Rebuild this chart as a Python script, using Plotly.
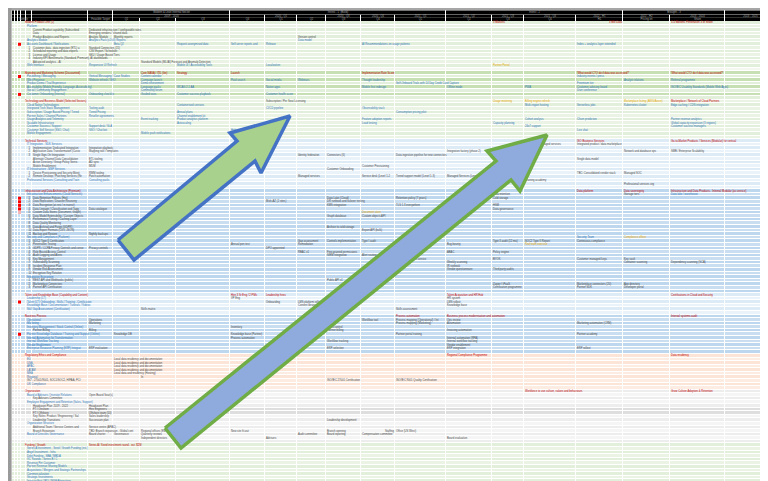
import plotly.graph_objects as go

# ---------------- grid data ----------------
col_edges = [4, 7, 10, 13, 18, 24, 80, 105, 132, 168, 222, 257, 289, 318, 353,
             387, 438, 484, 516, 568, 615, 662, 717, 768]
grid_top = 13.0
row_h = 3.58
n_rows = 130

band_names = ["g1", "w", "g2", "g1", "b1", "b2", "b1", "b2", "o", "gr", "g1"]
band_counts = [13, 1, 7, 12, 14, 29, 6, 11, 10, 15, 12]
band_shades = {
    "g1": ["#e2efda", "#ebf3e5"],
    "w": ["#f3f7f0"],
    "g2": ["#c6e0b4", "#e2efda"],
    "b1": ["#ddebf7", "#ebf3fa"],
    "b2": ["#bdd7ee", "#c9def1"],
    "o": ["#fce4d6", "#fdece2"],
    "gr": ["#ededed", "#f5f5f5"],
}
dark_gray_rows = [108, 109]

# header rows (three black bands)
hdr_bands = [(2.5, 6.0), (6.8, 9.6), (10.0, 13.0)]
hdr1_edges = [4, 7, 10, 13, 18, 24, 80, 105, 222, 438, 615, 717, 768]
hdr2_edges = [4, 7, 10, 13, 18, 24, 80, 105, 222, 257, 289, 318, 353, 387, 438,
              484, 516, 568, 615, 662, 717, 768]
hdr3_edges = col_edges
hdr1_labels = {7: "Modern & Lean Internal Sector", 8: "Invest - 1  (Build)",
               9: "Invest - 2", 10: "Brought - 3"}
hdr2_labels = {7: "2019 - 2020", 9: "2020 - Q1", 11: "2020 - Q3", 12: "2020 - Q4",
               13: "2021 - Q1", 14: "2021 - Q2", 15: "2021 - Q3", 16: "2021 - Q4",
               17: "2022 - H1", 18: "2022 - H2", 19: "2023 - 2024", 20: "2024 - 2025"}
hdr3_labels = {3: "Sample", 6: "Feasible Target", 7: "Q1", 8: "Q2", 9: "Q3", 10: "Q4",
               11: "Q1", 12: "Q2", 13: "Q3", 14: "Q4", 15: "Q1", 16: "Q2",
               17: "Q3", 18: "Q4", 19: "H1", 20: "Pricing on", 21: "Share"}

# ---------------- row labels (row, level, text, kind) ----------------
labels_product = [
    (0, 0, "Modern Product Line (1)", "r"),
    (1, 1, "Platform", "b"),
    (2, 2, "Current Product capability (Subscribed)", "k"),
    (3, 2, "Data", "k"),
    (4, 2, "Product Analytics and Reports", "k"),
    (5, 1, "Analytics Module", "b"),
    (6, 1, "Accounts Dashboard / Notifications", "b"),
    (7, 2, "1  Customer data - data ingestion (ETL) and transformation", "k"),
    (8, 2, "2  Scheduled reporting and data exports", "k"),
    (9, 2, "3  License and Usage", "k"),
    (10, 2, "4  Industry KPI Benchmarks (Standard, Premium), AI dashboards", "k"),
    (11, 2, "Advanced analytics - AI", "k"),
    (12, 1, "Web Interface", "b"),
]
labels_brand = [
    (14, 0, "Branding and Marketing Scheme (Discounted)", "r"),
    (15, 1, "Positioning / Messaging", "b"),
    (16, 1, "Web Presence", "b"),
    (17, 1, "Product Demo / Trial Experience", "b"),
    (18, 1, "Accessibility (Mobile Friendly, Language, Accessibility)", "b"),
    (19, 1, "Social / Community Engagement", "b"),
    (20, 1, "Customer Onboarding (Internal)", "b"),
]
labels_tech = [
    (22, 0, "Technology and Business Model (Selected Sectors)", "r"),
    (23, 1, "Cloud Native Technologies", "b"),
    (24, 1, "Integrated Tech Stack Management", "b"),
    (25, 1, "Subscription / Usage Based Pricing / Tiered model", "b"),
    (26, 1, "Partner Sales / Channel Partners", "b"),
    (27, 1, "Usage Analytics and Telemetry", "b"),
    (28, 1, "Scalable Infrastructure", "b"),
    (29, 1, "Customer Success / Support", "b"),
    (30, 1, "Customer Self Service (SSO, Chat)", "b"),
    (31, 1, "Mobile Engagement", "b"),
    (33, 0, "Technical Services", "r"),
    (34, 1, "IT Integration - SDK Services", "b"),
    (35, 2, "1  Implementation: Dedicated Integration Services", "k"),
    (36, 2, "2  Application Data Transformation (Custom Fields)", "k"),
    (37, 2, "3  Single Sign-On Integration", "k"),
    (38, 2, "Alternate Channel Data Consolidation", "k"),
    (39, 2, "Active Directory / Group Policy Services (Online)", "k"),
    (40, 2, "Mobile Enablement", "k"),
    (41, 1, "IT Infrastructure - MSP Services", "b"),
    (42, 2, "1  Device Provisioning and Security Monitoring", "k"),
    (43, 2, "2  Remote Desktop / Patching Services (Recurring)", "k"),
    (44, 1, "Professional Services (Consulting and Training services)", "b"),
]
labels_infra = [
    (47, 0, "Infrastructure and Data Architecture (Premium)", "r"),
    (48, 1, "Infrastructure Enhancements (Cloud Services)", "b"),
    (49, 2, "1  Data Retention Policies (Hot)", "k"),
    (50, 2, "2  Data Replication / Disaster Recovery", "k"),
    (51, 2, "3  Data Encryption (at rest / in transit)", "k"),
    (52, 2, "4  Data Lineage / Classification and Tagging", "k"),
    (53, 2, "5  Custom Data Stores (Document, Graph)", "k"),
    (54, 2, "6  Data Model Extensibility / Custom Objects", "k"),
    (55, 2, "7  Performance Tuning / Caching Layer", "k"),
    (56, 2, "8  Data Quality Monitoring", "k"),
    (57, 2, "9  Data Archival and Purge (GDPR)", "k"),
    (58, 2, "10  Data Export Formats (CSV, JSON)", "k"),
    (59, 2, "11  Backup and Restore", "k"),
    (60, 1, "Security and Compliance (Platform)", "b"),
    (61, 2, "1  SOC2 Type II Certification", "k"),
    (62, 2, "2  Penetration Testing", "k"),
    (63, 2, "3  GDPR / CCPA Privacy Controls and consent", "k"),
    (64, 2, "4  Role Based Access Control", "k"),
    (65, 2, "5  Audit Logging and Alerts", "k"),
    (66, 2, "6  Key Management", "k"),
    (67, 2, "7  Vulnerability Scanning", "k"),
    (68, 2, "8  Incident Response Plan", "k"),
    (69, 2, "9  Vendor Risk Assessment", "k"),
    (70, 2, "10  Encryption Key Rotation", "k"),
    (71, 1, "Integration Ecosystem", "b"),
    (72, 2, "1  REST API and Webhooks (public)", "k"),
    (73, 2, "2  Marketplace Connectors", "k"),
    (74, 2, "3  Partner API Certification", "k"),
]
labels_talent = [
    (76, 0, "Talent and Knowledge Base (Capability and Content)", "r"),
    (77, 1, "Leadership (LT)", "b"),
    (78, 1, "Talent (LT) Onboarding - Skills / Training - Certification", "b"),
    (79, 1, "Knowledge Base / Documentation / Tutorials / Videos", "b"),
    (80, 1, "Skill Gap Assessment (Certification)", "b"),
    (82, 0, "Business Process", "r"),
    (83, 1, "Operational", "b"),
    (84, 1, "Marketing", "b"),
    (85, 1, "Inventory Management / Stock Control (Online)", "b"),
    (86, 2, "Partner Billing", "k"),
    (87, 1, "Partner Knowledge Database / Training and Support (Online)", "b"),
    (88, 1, "Internal Automation for Transformation", "b"),
    (89, 1, "Internal Workflow Tracking", "b"),
    (90, 1, "Vendor Enablement", "b"),
    (91, 1, "Enterprise Resource Planning (ERP) Integration", "b"),
]
labels_reg = [
    (93, 0, "Regulatory Ethics and Compliance", "r"),
    (94, 1, "EU", "b"),
    (95, 1, "USA", "b"),
    (96, 1, "APAC", "b"),
    (97, 1, "LATAM", "b"),
    (98, 1, "MEA", "b"),
    (99, 1, "Regional", "b"),
    (100, 1, "ISO - 27001/9001, SOC1/SOC2, HIPAA, PCI", "k"),
    (101, 1, "UK Compliance", "b"),
]
labels_org = [
    (103, 0, "Organization", "r"),
    (104, 1, "Board of Advisors / Investor Relations", "b"),
    (105, 2, "Key Advisors Committee", "k"),
    (106, 1, "Employee Engagement and Retention (Sales, Support)", "b"),
    (108, 2, "FT / Onshore", "k"),
    (109, 2, "FT / Offshore", "k"),
    (110, 2, "Key Roles: Product / Engineering / Sales", "k"),
    (111, 2, "Leadership Transitions", "k"),
    (112, 1, "Organization Structure", "b"),
    (113, 2, "Additional Team / Service Centers and Locations (Global)", "k"),
    (114, 2, "Branch Expansion", "k"),
    (115, 1, "Board of Directors Governance", "b"),
]
labels_fund = [
    (118, 0, "Funding / Growth", "r"),
    (119, 1, "Series A Investment - Seed / Growth Funding (est.)", "b"),
    (120, 1, "Angel Investment - Infra", "b"),
    (121, 1, "Debt Funding - SBA / MBDA", "b"),
    (122, 1, "VC Rounds - Series B / C", "b"),
    (123, 1, "Revenue Per Customer", "b"),
    (124, 1, "Partner Revenue Sharing Models", "b"),
    (125, 1, "Acquisitions / Mergers and Strategic Partnerships", "b"),
    (126, 1, "Commercialization", "b"),
    (127, 1, "Strategic Investments", "b"),
    (128, 1, "Investor Exit / IPO / M&A Alternatives", "b"),
]
level_x = [17, 19, 25]

# ---------------- cell texts (row, col, text, kind, align) ----------------
cells_top = [
    (0, 17, "3 Markets", "r", "l"), (0, 19, "3 Mkt Data", "r", "r"),
    (0, 21, "3-4 Markets Penetration 3 of Share", "r", "l"),
    (2, 6, "Dedicated infrastructure / configurable rates", "k", "l"),
    (3, 6, "Emerging vendors / shared data", "k", "l"),
    (4, 6, "Analytic Module (1)", "k", "l"), (4, 7, "Monthly reports", "k", "l"),
    (4, 12, "Version control", "k", "l"),
    (5, 6, "Analytics Pack (v2/v3) Reports", "b", "l"), (5, 12, "Data model", "b", "l"),
    (6, 7, "Beta Q2", "b", "l"), (6, 9, "Request anonymised data", "b", "l"),
    (6, 10, "Self-serve reports and scheduled exports", "b", "l"),
    (6, 11, "Release", "b", "l"), (6, 14, "AI Recommendations on usage patterns", "b", "l"),
    (6, 19, "Index + analytics layer extended", "b", "l"),
    (7, 6, "Standard Connectors (15)", "k", "l"),
    (8, 6, "CSV Export / Scheduler", "k", "l"),
    (9, 6, "SKU / Usage Based Tiers", "k", "l"),
    (11, 8, "Standard Models (ML/AI) Forecast and Anomaly Detection", "k", "l"),
    (12, 6, "Responsive UI Refresh", "b", "l"), (12, 9, "Mobile UI / Accessibility Tools", "b", "l"),
    (12, 11, "Localization", "b", "l"), (12, 17, "Partner Portal", "y", "l"),
    (14, 8, "Core NASA / ITIL (lite)", "r", "l"), (14, 9, "Strategy", "r", "l"),
    (14, 10, "Launch", "r", "l"), (14, 14, "Implementation Rate Score", "r", "l"),
    (14, 19, "'What would CTO do if data was accessed?'", "r", "l"),
    (14, 21, "'What would CTO do if data was accessed?'", "r", "l"),
    (15, 6, "Vertical Messaging / Case Studies", "b", "l"), (15, 8, "Content calendar", "b", "l"),
    (15, 19, "Industry events / press", "b", "l"),
    (16, 6, "Website refresh / SEO", "b", "l"), (16, 8, "Campaign launch", "b", "l"),
    (16, 10, "Paid search", "b", "l"), (16, 11, "Social media", "b", "l"),
    (16, 12, "Webinars", "b", "l"), (16, 14, "Thought leadership", "b", "l"),
    (16, 20, "Analyst relations", "b", "l"), (16, 21, "Referral programme", "b", "l"),
    (17, 8, "Demo environment", "b", "l"),
    (17, 15, "Self-Onboard Trials with 14 Day Credit Card Capture", "b", "l"),
    (17, 19, "Freemium tier", "b", "l"),
    (18, 8, "Language packs", "b", "l"), (18, 9, "WCAG 2.1 AA", "b", "l"),
    (18, 11, "Native apps", "b", "l"), (18, 14, "Mobile first redesign", "b", "l"),
    (18, 16, "Offline mode", "b", "l"), (18, 18, "PWA", "b", "l"),
    (18, 19, "Customer advisory board", "b", "l"),
    (18, 21, "ISO/IEC Usability Standards (Mobile Web Apps)", "b", "l"),
    (19, 8, "Community forum", "b", "l"), (19, 19, "User conference", "b", "l"),
    (20, 6, "Onboarding checklist", "b", "l"), (20, 8, "Guided tours", "b", "l"),
    (20, 9, "Customer success playbook", "b", "l"), (20, 11, "Customer health score", "b", "l"),
    (22, 11, "Subscription / Per Seat Licensing", "k", "l"),
    (22, 17, "Usage metering", "y", "l"), (22, 18, "Billing engine refresh", "y", "l"),
    (22, 20, "Marketplace listing (AWS/Azure)", "y", "l"),
    (22, 21, "Marketplace / Network of Cloud Partners", "r", "l"),
    (23, 9, "Containerised services", "b", "l"), (23, 18, "Multi-region hosting", "b", "l"),
    (23, 19, "Serverless jobs", "b", "l"), (23, 20, "Kubernetes cluster", "b", "l"),
    (23, 21, "Edge caching / CDN integration", "b", "l"),
    (24, 6, "Tooling audit", "b", "l"), (24, 11, "CI/CD pipeline", "b", "l"),
    (24, 14, "Observability stack", "b", "l"),
    (25, 6, "Tiered Pricing", "b", "l"), (25, 9, "Annual plans", "b", "l"),
    (25, 15, "Consumption pricing pilot", "b", "l"),
    (26, 6, "Reseller agreements", "b", "l"), (26, 9, "Channel enablement kit", "b", "l"),
    (27, 8, "Event tracking", "b", "l"), (27, 9, "Product analytics platform", "b", "l"),
    (27, 14, "Feature adoption reports", "b", "l"), (27, 18, "Cohort analysis", "b", "l"),
    (27, 19, "Churn prediction", "b", "l"), (27, 21, "Partner revenue analytics", "b", "l"),
    (28, 9, "Autoscaling", "b", "l"), (28, 14, "Load testing", "b", "l"),
    (28, 17, "Capacity planning", "b", "l"), (28, 21, "Global capacity expansion (3 regions)", "b", "l"),
    (29, 6, "Support desk / SLA", "b", "l"), (29, 18, "24x7 support", "b", "l"),
    (29, 21, "Customer success managers", "b", "l"),
    (30, 6, "SSO / Chat bot", "b", "l"), (30, 10, "Help centre", "b", "l"),
    (30, 19, "Live chat", "b", "l"),
    (31, 8, "Mobile push notifications", "b", "l"),
]
cells_mid = [
    (33, 19, "ISO Business Services", "r", "l"),
    (33, 21, "Go-to-Market Products / Services (Modular) for vertical", "r", "l"),
    (34, 18, "Partner-led managed services", "k", "l"),
    (34, 19, "Integrated product / data marketplace", "k", "l"),
    (35, 6, "Integration playbook", "k", "l"),
    (36, 6, "Mapping tool / templates", "k", "l"), (36, 16, "Integration factory (phase 2)", "k", "l"),
    (36, 20, "Network and database ops", "k", "l"), (36, 21, "SMB / Enterprise Scalability", "k", "l"),
    (37, 12, "Identity federation", "k", "l"), (37, 13, "Connectors (6)", "k", "l"),
    (37, 15, "Data ingestion pipeline for new connectors", "k", "l"),
    (38, 6, "ETL tooling", "k", "l"), (38, 19, "Single data model", "k", "l"),
    (39, 6, "AD sync", "k", "l"), (40, 6, "MDM", "k", "l"),
    (40, 14, "Customer Provisioning", "k", "l"), (41, 13, "Customer Onboarding", "k", "l"),
    (42, 6, "RMM tooling", "k", "l"), (42, 19, "TBC: Consolidated vendor stack", "k", "l"),
    (42, 20, "Managed SOC", "k", "l"),
    (43, 6, "Patch automation", "k", "l"), (43, 12, "Managed services", "k", "l"),
    (43, 14, "Service desk (Level 1-2)", "k", "l"), (43, 15, "Tiered support model (Level 1-3)", "k", "l"),
    (43, 16, "Managed Services (Level 3)", "k", "l"),
    (44, 6, "Consulting packs", "b", "l"), (44, 18, "Training academy", "k", "l"),
    (45, 20, "Professional services org", "k", "l"),
    (47, 19, "Data platform", "r", "l"), (47, 20, "Data sovereignty", "r", "l"),
    (47, 21, "Infrastructure and Data Products - Internal Modular (as service)", "r", "l"),
    (48, 17, "Data retention", "k", "l"), (48, 20, "Storage tiers", "k", "l"),
    (48, 21, "Data lake / warehouse", "b", "l"),
    (49, 13, "Data Lake (Cloud)", "k", "l"), (49, 15, "Retention policy (7 years)", "k", "l"),
    (49, 17, "Cold storage", "k", "l"),
    (50, 11, "Multi-AZ (2 sites)", "k", "l"), (50, 13, "DR runbook and failover testing", "k", "l"),
    (51, 13, "KMS integration", "k", "l"), (51, 15, "TLS 1.3 everywhere", "k", "l"),
    (51, 17, "HSM", "k", "l"),
    (52, 6, "Data catalogue", "k", "l"), (52, 17, "Data governance", "k", "l"),
    (53, 14, "Document store", "y", "l"), (54, 13, "Graph database", "k", "l"),
    (54, 14, "Custom objects API", "k", "l"),
    (56, 8, "Data quality rules", "k", "l"), (57, 13, "Archive to cold storage", "k", "l"),
    (58, 14, "Export API (bulk)", "k", "l"), (59, 6, "Nightly backups", "k", "l"),
    (60, 19, "Security Team", "b", "l"), (60, 20, "Compliance officer", "y", "l"),
    (61, 12, "Gap assessment", "k", "l"), (61, 13, "Controls implementation", "k", "l"),
    (61, 14, "Type I audit", "k", "l"), (61, 17, "Type II audit (12 mo)", "k", "l"),
    (61, 18, "SOC2 Type II Report", "k", "l"), (61, 19, "Continuous compliance", "k", "l"),
    (62, 10, "Annual pen test", "k", "l"), (62, 12, "Remediation", "k", "l"),
    (62, 16, "Bug bounty", "k", "l"), (62, 18, "Red team exercise", "y", "l"),
    (63, 6, "Privacy controls", "k", "l"), (63, 11, "DPO appointed", "k", "l"),
    (64, 12, "RBAC v1", "k", "l"), (64, 13, "Fine-grained permissions", "k", "l"),
    (64, 16, "ABAC", "k", "l"), (64, 17, "Policy engine", "k", "l"),
    (65, 13, "SIEM integration", "k", "l"), (65, 14, "Alert routing", "k", "l"),
    (66, 15, "Key management service", "k", "l"), (66, 17, "BYOK", "k", "l"),
    (66, 19, "Customer managed keys", "k", "l"), (66, 20, "Key vault", "k", "l"),
    (67, 16, "Weekly scanning", "k", "l"), (67, 20, "Container scanning", "k", "l"),
    (67, 21, "Dependency scanning (SCA)", "k", "l"),
    (68, 16, "IR runbook", "k", "l"), (69, 16, "Vendor questionnaire", "k", "l"),
    (69, 17, "Third party audits", "k", "l"),
    (72, 13, "Public API v1", "k", "l"), (73, 17, "Zapier / iPaaS", "k", "l"),
    (73, 19, "Marketplace connectors (20)", "k", "l"), (73, 20, "App directory", "k", "l"),
    (74, 17, "Certification programme", "k", "l"), (74, 19, "Partner SDK", "k", "l"),
    (74, 20, "Developer portal", "k", "l"),
]
cells_low = [
    (76, 10, "Hire 3 Sr Eng / 2 PMs", "r", "l"), (76, 11, "Leadership hires", "r", "l"),
    (76, 16, "Talent Acquisition and HR Hub", "r", "l"),
    (76, 21, "Certifications in Cloud and Security", "r", "l"),
    (77, 10, "VP Eng", "k", "l"), (77, 16, "HR system", "k", "l"),
    (78, 11, "Onboarding", "k", "l"), (78, 12, "LMS platform rollout", "k", "l"),
    (78, 16, "LMS rollout", "k", "l"), (79, 12, "Content library", "k", "l"),
    (79, 16, "Knowledge base", "k", "l"), (80, 8, "Skills matrix", "k", "l"),
    (80, 15, "Skills assessment", "k", "l"),
    (82, 15, "Process automation", "r", "l"),
    (82, 16, "Business process modernisation and automation", "r", "l"),
    (82, 21, "Internal systems audit", "r", "l"),
    (83, 6, "Operations", "k", "l"), (83, 14, "Workflow tool", "k", "l"),
    (83, 15, "Process mapping (Operational) / Integration assessment", "k", "l"),
    (83, 16, "Ops review", "k", "l"),
    (84, 6, "Marketing", "k", "l"), (84, 15, "Process mapping (Marketing)", "k", "l"),
    (84, 16, "Automation", "k", "l"), (84, 19, "Marketing automation (CRM)", "k", "l"),
    (85, 10, "Inventory", "k", "l"), (85, 13, "Stock control", "k", "l"),
    (86, 6, "Billing", "k", "l"), (86, 13, "Partner billing", "k", "l"),
    (86, 16, "Invoicing automation", "k", "l"),
    (87, 7, "Knowledge DB", "k", "l"), (87, 10, "Knowledge base (Partner)", "k", "l"),
    (87, 15, "Partner portal training", "k", "l"), (87, 19, "Partner academy", "k", "l"),
    (88, 16, "Internal automation (RPA)", "k", "l"), (88, 10, "Process automation", "k", "l"),
    (89, 13, "Workflow tracking", "k", "l"), (89, 16, "Internal workflow tracking", "k", "l"),
    (90, 16, "Vendor enablement", "k", "l"),
    (91, 6, "ERP evaluation", "k", "l"), (91, 13, "ERP selection", "k", "l"),
    (91, 16, "ERP integration", "k", "l"), (91, 19, "ERP rollout", "k", "l"),
    (93, 16, "Regional Compliance Programme", "r", "l"),
    (93, 21, "Data residency", "r", "l"),
    (94, 7, "Local data residency and documentation", "k", "l"),
    (95, 7, "Local data residency and documentation", "k", "l"),
    (96, 7, "Local data residency and documentation", "k", "l"),
    (97, 7, "Local data residency and documentation", "k", "l"),
    (98, 7, "Local data and residency (Hosting)", "k", "l"),
    (99, 8, "In", "k", "l"),
    (100, 13, "ISO/IEC 27001 Certification", "k", "l"),
    (100, 15, "ISO/IEC 9001 Quality Certification", "k", "l"),
    (103, 18, "Workforce to use culture, values and behaviours", "r", "l"),
    (103, 21, "Grow Culture Adoption & Retention", "r", "l"),
    (104, 6, "Open Board Seat(s)", "k", "l"),
    (107, 5, "Headcount Plan  2019 - 2022", "k", "l"),
    (107, 6, "Headcount Plan", "k", "l"),
    (108, 6, "Hire Engineers", "k", "l"), (109, 6, "Offshore team (10)", "k", "l"),
    (110, 6, "Sales leadership", "k", "l"), (111, 6, "Succession plan", "k", "l"),
    (111, 13, "Leadership development", "k", "l"),
    (113, 6, "Service centre (APAC)", "k", "l"),
    (114, 6, "TBD: Branch expansion - Global centres", "k", "l"),
    (114, 8, "Regional offices (EMEA)", "k", "l"), (114, 10, "New site fit-out", "k", "l"),
    (114, 13, "Branch opening", "k", "l"), (114, 14, "Staffing", "k", "r"),
    (114, 15, "Office (US West)", "k", "l"),
    (115, 6, "Board charter", "k", "l"), (115, 7, "Governance", "k", "l"),
    (115, 8, "Quarterly reviews", "k", "l"), (115, 12, "Audit committee", "k", "l"),
    (115, 13, "Board reporting", "k", "l"), (115, 14, "Compensation committee", "k", "l"),
    (116, 8, "Independent directors", "k", "l"), (116, 11, "Advisors", "k", "l"),
    (116, 16, "Board evaluation", "k", "l"),
    (118, 6, "Series A / Seed investment round - est. $2M", "r", "l"),
]
red_marker_rows = [6, 15, 20, 49, 50, 51, 52, 78, 87]
pink_marker_rows = [53]

# ---------------- arrows (vertices in sheet pixel coordinates) ----------------
green_arrow_x = [110, 229, 222, 282, 253, 247, 126, 110]
green_arrow_y = [232, 133, 125, 108, 165, 153, 252, 232]
blue_arrow_x = [157, 488, 479, 539, 512, 503, 173, 157]
blue_arrow_y = [420, 153, 143, 127, 183, 172, 440, 420]

kind_colors = {"r": "#c00000", "b": "#2e75b6", "k": "#4a4a4a", "y": "#e6a800"}
FONT = "Liberation Sans"
TXT = 2.7            # cell font size
CHAR_W = 0.52 * TXT  # approximate glyph advance

# ---------------- build the sheet ----------------
row_colors = []
for name, cnt in zip(band_names, band_counts):
    shades = band_shades[name]
    for k in range(cnt):
        row_colors.append(shades[k % len(shades)])
for r in dark_gray_rows:
    row_colors[r] = "#dedede"

palette = sorted(set(row_colors))
n_pal = len(palette)
colorscale = [[i / (n_pal - 1), c] for i, c in enumerate(palette)]
n_cols = len(col_edges) - 1
z = [[palette.index(row_colors[r])] * n_cols for r in range(n_rows)]
row_edges = [grid_top + row_h * r for r in range(n_rows)] + [481.5]

fig = go.Figure()
fig.add_trace(go.Heatmap(
    x=col_edges, y=row_edges, z=z, colorscale=colorscale, zmin=0, zmax=n_pal - 1,
    showscale=False, xgap=1, ygap=1, hoverinfo="skip"))

# header bands
for (y0, y1), edges in zip(hdr_bands, [hdr1_edges, hdr2_edges, hdr3_edges]):
    fig.add_trace(go.Heatmap(
        x=edges, y=[y0, y1], z=[[0] * (len(edges) - 1)],
        colorscale=[[0, "#000000"], [1, "#000000"]], showscale=False,
        xgap=1, hoverinfo="skip"))

hx, hy, ht = [], [], []
for (y0, y1), edges, labs in zip(hdr_bands, [hdr1_edges, hdr2_edges, hdr3_edges],
                                 [hdr1_labels, hdr2_labels, hdr3_labels]):
    for idx, txt in labs.items():
        hx.append((edges[idx] + edges[idx + 1]) / 2)
        hy.append((y0 + y1) / 2)
        ht.append(txt)
fig.add_trace(go.Scatter(x=hx, y=hy, text=ht, mode="text", textposition="middle center",
                         textfont=dict(size=TXT, color="#a6a6a6", family=FONT),
                         hoverinfo="skip", showlegend=False))


def row_mid(r):
    return grid_top + row_h * r + row_h / 2


# collect every text item: (row, x, text, kind, align)
items = []
all_labels = (labels_product + labels_brand + labels_tech + labels_infra +
              labels_talent + labels_reg + labels_org + labels_fund)
for r, lvl, txt, kind in all_labels:
    if lvl == 2 and "  " in txt and txt.split("  ")[0].isdigit():
        num, txt = txt.split("  ", 1)
        items.append((r, 20.5, num, "k", "l"))
    items.append((r, level_x[lvl], txt, kind, "l"))
for r, c, txt, kind, al in cells_top + cells_mid + cells_low:
    x = col_edges[c] + 1 if al == "l" else col_edges[c + 1] - 1
    items.append((r, x, txt, kind, al))

# Excel-like overflow: a text may spill right only until the next filled cell
starts = {}
for r, x, txt, kind, al in items:
    left = x if al == "l" else x - len(txt) * CHAR_W
    starts.setdefault(r, []).append(left)

groups = {}
for r, x, txt, kind, al in items:
    if al == "l":
        nxt = [s for s in starts[r] if s > x + 0.5]
        limit = min(nxt) if nxt else 767
        max_chars = max(1, int((limit - x - 1.5) / CHAR_W))
        if len(txt) > max_chars:
            txt = txt[:max_chars].rstrip()
    key = (kind, al)
    groups.setdefault(key, ([], [], []))
    g = groups[key]
    g[0].append(x); g[1].append(row_mid(r)); g[2].append(txt)

for (kind, al), (xs, ys, ts) in groups.items():
    fig.add_trace(go.Scatter(x=xs, y=ys, text=ts, mode="text",
                             textposition="middle right" if al == "l" else "middle left",
                             textfont=dict(size=TXT, color=kind_colors[kind], family=FONT),
                             hoverinfo="skip", showlegend=False))

# red markers in the flag column
flag_x = (col_edges[2] + col_edges[3]) / 2
fig.add_trace(go.Scatter(x=[flag_x] * len(red_marker_rows), y=[row_mid(r) for r in red_marker_rows],
                         mode="markers", marker=dict(symbol="square", size=3, color="#ff0000"),
                         hoverinfo="skip", showlegend=False))
fig.add_trace(go.Scatter(x=[flag_x] * len(pink_marker_rows), y=[row_mid(r) for r in pink_marker_rows],
                         mode="markers", marker=dict(symbol="square", size=3, color="#f4b6b6"),
                         hoverinfo="skip", showlegend=False))

# arrows
fig.add_trace(go.Scatter(x=green_arrow_x, y=green_arrow_y, mode="lines", fill="toself",
                         fillcolor="#a9d18e", line=dict(color="#4472c4", width=3.5),
                         hoverinfo="skip", showlegend=False))
fig.add_trace(go.Scatter(x=blue_arrow_x, y=blue_arrow_y, mode="lines", fill="toself",
                         fillcolor="#8faadc", line=dict(color="#70ad47", width=3.5),
                         hoverinfo="skip", showlegend=False))

fig.update_layout(
    width=768, height=481, autosize=False,
    margin=dict(l=0, r=0, t=0, b=0, pad=0),
    paper_bgcolor="#ffffff", plot_bgcolor="#ffffff",
    xaxis=dict(range=[0, 768], visible=False, fixedrange=True),
    yaxis=dict(range=[481, 0], visible=False, fixedrange=True),
    showlegend=False,
    shapes=[
        dict(type="rect", xref="x", yref="y", x0=0, x1=768, y0=0, y1=2.2,
             fillcolor="#a6a6a6", line=dict(width=0), layer="below"),
        dict(type="rect", xref="x", yref="y", x0=0, x1=3.6, y0=0, y1=481,
             fillcolor="#9a9a9a", line=dict(width=0), layer="above"),
    ],
)

fig.write_html("out.html", config={"displayModeBar": False})
